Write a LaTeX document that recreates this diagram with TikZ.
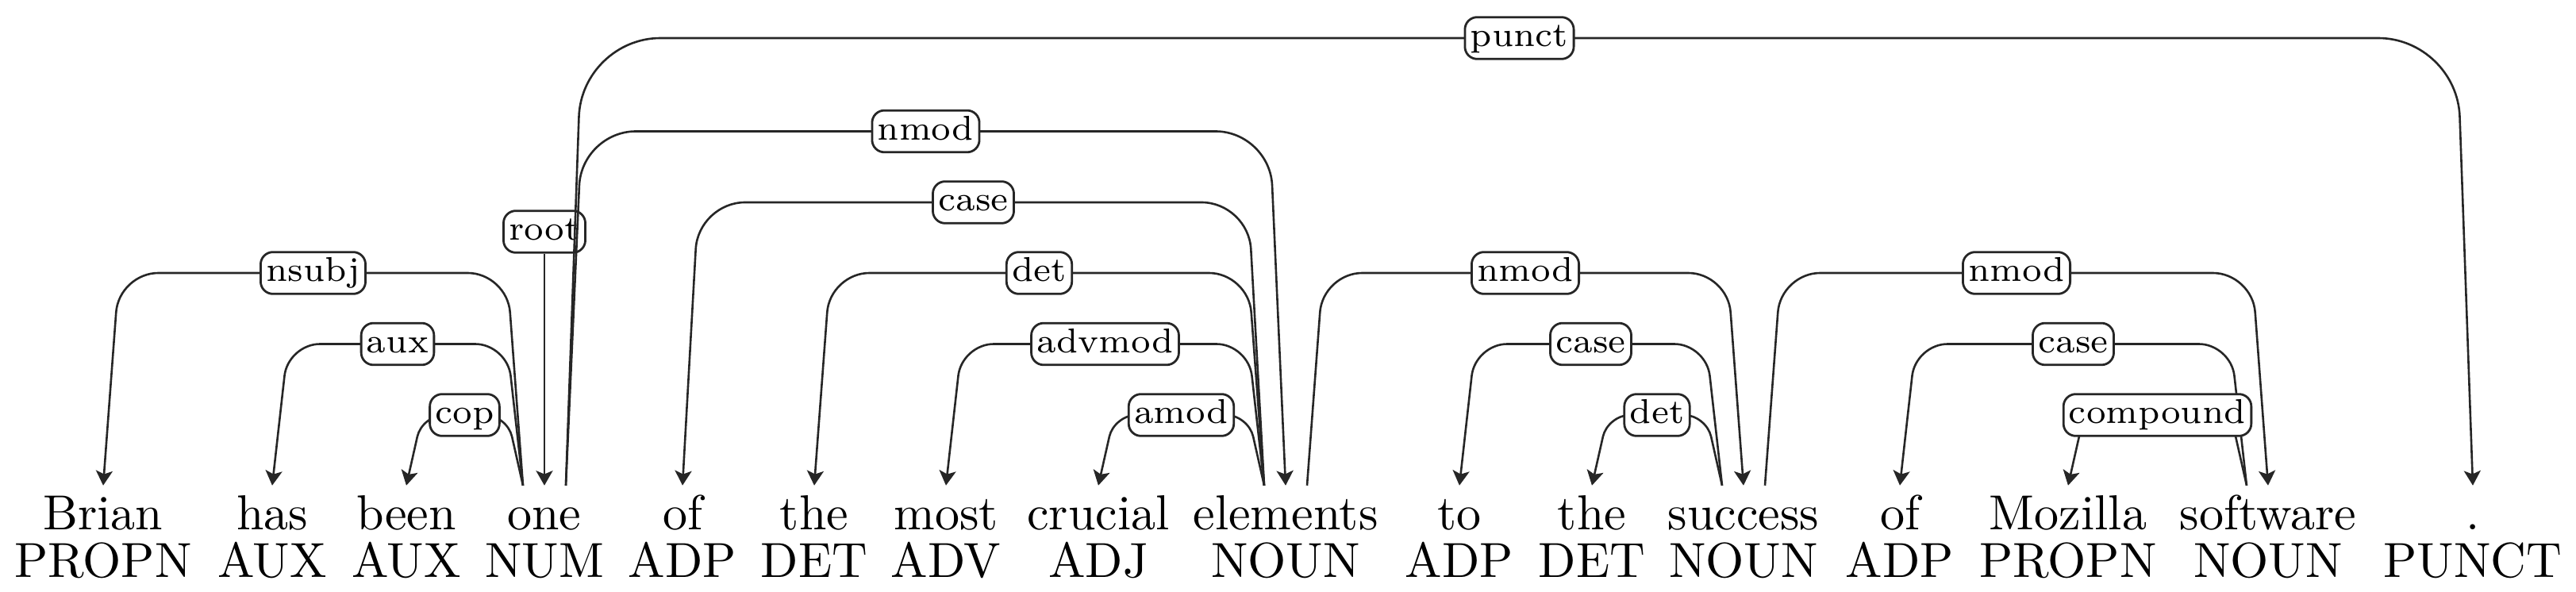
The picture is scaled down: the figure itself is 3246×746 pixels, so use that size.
\documentclass[tikz,border=0pt]{standalone}
\usetikzlibrary{calc,arrows.meta}
\tikzset{
  word/.style={anchor=base, inner sep=0pt, text height=8.87pt},
  postag/.style={anchor=base, inner sep=0pt},
  lab/.style={draw=black!85, fill=white, rounded corners=2.5pt, font=\scriptsize, inner xsep=1.1pt, inner ysep=1pt, text height=5pt, text depth=1.5pt, line width=0.45pt},
  edge/.style={draw=black!85, line width=0.42pt, -{Stealth[length=3pt,width=3.4pt,inset=0.7pt]}},
}
\newcommand\depedge[6]{%
  \coordinate (#6s) at ($(#1.north)+(#4*27,0)$);
  \draw[edge, rounded corners=#5] (#6s) -- ($(#6s |- #3)+(#4*20,0)$) -- ($(#2.north |- #3)+(#4*-20,0)$) -- (#2.north);
  \coordinate (#6) at ($(#6s |- #3)!0.5!(#2.north |- #3)$);
}
\begin{document}
\begin{tikzpicture}[x=0.1613pt, y=-0.1613pt]
\useasboundingbox (0,0) rectangle (3246,746);
% levels
\coordinate (L1) at (0,523);
\coordinate (L2) at (0,433.5);
\coordinate (L3) at (0,344);
\coordinate (L4) at (0,255);
\coordinate (L5) at (0,165.5);
\coordinate (Lp) at (0,48);
% words
\foreach \i/\x/\w/\p in {1/130/Brian/PROPN, 2/343/has/AUX, 3/512/been/AUX, 4/686/one/NUM, 5/860/of/ADP, 6/1026/the/DET, 7/1192/most/ADV, 8/1384/crucial/ADJ, 9/1620/elements/NOUN, 10/1839/to/ADP, 11/2006/the/DET, 12/2197/success/NOUN, 13/2394/of/ADP, 14/2606/Mozilla/PROPN, 15/2858/software/NOUN, 16/3116/./PUNCT}{
  \node[word] (w\i) at (\x,668) {\w};
  \node[postag] (p\i) at (\x,728) {\p};
}
% root
\node[lab] (lroot) at (686,292) {root};
\draw[edge] (lroot) -- (w4.north);
% edges
\depedge{w4}{w1}{L3}{-1}{8pt}{c1}
\depedge{w4}{w2}{L2}{-1}{6.5pt}{c2}
\depedge{w4}{w3}{L1}{-1}{4.5pt}{c3}
\depedge{w4}{w9}{L5}{1}{11pt}{c4}
\depedge{w4}{w16}{Lp}{1}{16pt}{c5}
\depedge{w9}{w5}{L4}{-1}{9.5pt}{c6}
\depedge{w9}{w6}{L3}{-1}{8pt}{c7}
\depedge{w9}{w7}{L2}{-1}{6.5pt}{c8}
\depedge{w9}{w8}{L1}{-1}{4.5pt}{c9}
\depedge{w9}{w12}{L3}{1}{8pt}{c10}
\depedge{w12}{w10}{L2}{-1}{6.5pt}{c11}
\depedge{w12}{w11}{L1}{-1}{4.5pt}{c12}
\depedge{w12}{w15}{L3}{1}{8pt}{c13}
\depedge{w15}{w13}{L2}{-1}{6.5pt}{c14}
\depedge{w15}{w14}{L1}{-1}{4.5pt}{c15}
% labels
\node[lab] (l1) at (c1) {nsubj};
\node[lab] (l2) at (c2) {aux};
\node[lab] (l3) at (c3) {cop};
\node[lab] (l4) at (c4) {nmod};
\node[lab] (l5) at (c5) {punct};
\node[lab] (l6) at (c6) {case};
\node[lab] (l7) at (c7) {det};
\node[lab] (l8) at (c8) {advmod};
\node[lab] (l9) at (c9) {amod};
\node[lab] (l10) at (c10) {nmod};
\node[lab] (l11) at (c11) {case};
\node[lab] (l12) at (c12) {det};
\node[lab] (l13) at (c13) {nmod};
\node[lab] (l14) at (c14) {case};
\node[lab] (l15) at (c15) {compound};
\end{tikzpicture}
\end{document}
